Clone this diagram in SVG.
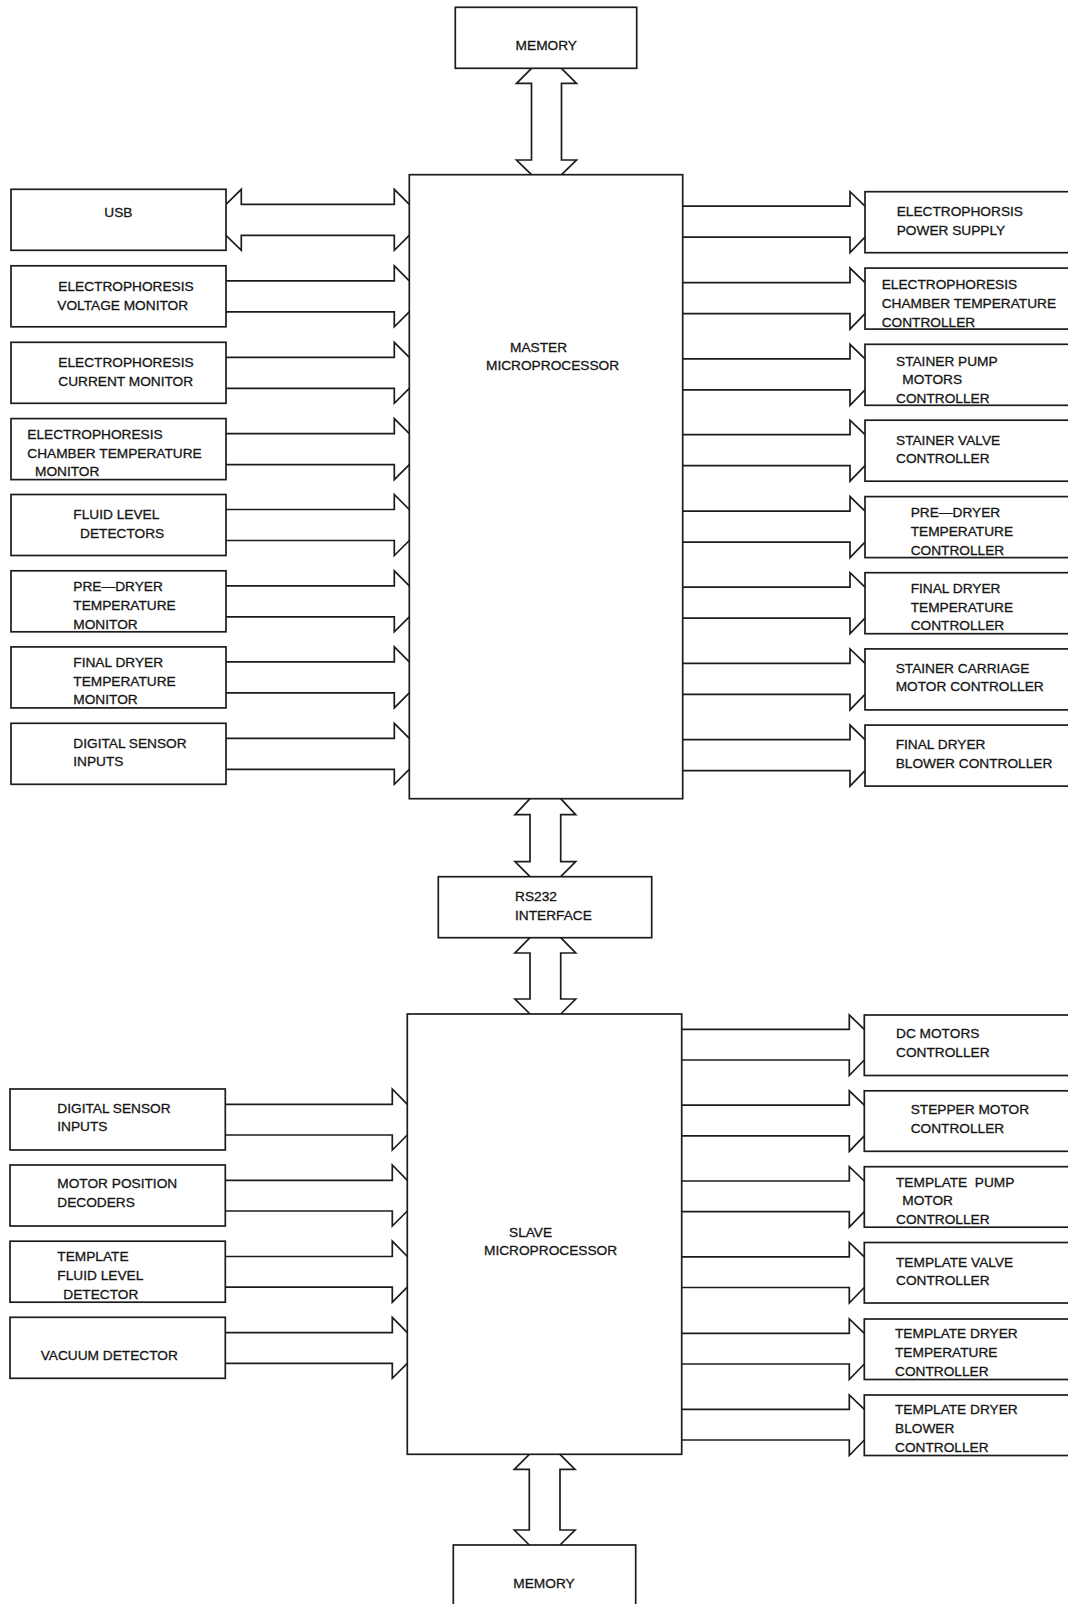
<svg xmlns="http://www.w3.org/2000/svg" width="1068" height="1604" viewBox="0 0 1068 1604">
<style>
.b{fill:#fff;stroke:#1c1c1c;stroke-width:1.7}
.c{fill:none;stroke:#1c1c1c;stroke-width:1.7;stroke-linejoin:miter}
text{font-family:"Liberation Sans",Arial,sans-serif;font-size:13.7px;fill:#151515;stroke:#151515;stroke-width:0.3}
.m{text-anchor:middle}
</style>
<rect width="1068" height="1604" fill="#fff"/>
<g id="connectors">
<path class="c" d="M531.5,68.3 L516.5,83.3 H531.5 V160 H516.5 L531.5,174.7 M561.5,68.3 L576.5,83.3 H561.5 V160 H576.5 L561.5,174.7"/>
<path class="c" d="M530,798.7 L515,814.7 H530 V861.7 H515 L530,876.7 M560.7,798.7 L575.7,814.7 H560.7 V861.7 H575.7 L560.7,876.7"/>
<path class="c" d="M530,937.7 L515,953 H530 V999 H515 L530,1014 M560.7,937.7 L575.7,953 H560.7 V999 H575.7 L560.7,1014"/>
<path class="c" d="M529.3,1454.3 L514.3,1469.3 H529.3 V1530 H514.3 L529.3,1545 M560,1454.3 L575,1469.3 H560 V1530 H575 L560,1545"/>
<path class="c" d="M226,204.3 L241.3,189.3 V204.3 H394.3 V189.3 L409.3,204.3 M226,235.3 L241.3,250.3 V235.3 H394.3 V250.3 L409.3,235.3"/>
<path class="c" d="M226,280.8 H394.3 V265.8 L409.3,280.8 M226,311.8 H394.3 V326.8 L409.3,311.8"/>
<path class="c" d="M226,357.3 H394.3 V342.3 L409.3,357.3 M226,388.3 H394.3 V403.3 L409.3,388.3"/>
<path class="c" d="M226,433.6 H394.3 V418.6 L409.3,433.6 M226,464.6 H394.3 V479.6 L409.3,464.6"/>
<path class="c" d="M226,509.5 H394.3 V494.5 L409.3,509.5 M226,540.5 H394.3 V555.5 L409.3,540.5"/>
<path class="c" d="M226,585.8 H394.3 V570.8 L409.3,585.8 M226,616.8 H394.3 V631.8 L409.3,616.8"/>
<path class="c" d="M226,661.9 H394.3 V646.9 L409.3,661.9 M226,692.9 H394.3 V707.9 L409.3,692.9"/>
<path class="c" d="M226,738.3 H394.3 V723.3 L409.3,738.3 M226,769.3 H394.3 V784.3 L409.3,769.3"/>
<path class="c" d="M682.7,206.2 H850 V191.7 L865,206.2 M682.7,237.2 H850 V252.7 L865,237.2"/>
<path class="c" d="M682.7,282.6 H850 V268.1 L865,282.6 M682.7,313.6 H850 V329.1 L865,313.6"/>
<path class="c" d="M682.7,358.8 H850 V344.3 L865,358.8 M682.7,389.8 H850 V405.3 L865,389.8"/>
<path class="c" d="M682.7,434.7 H850 V420.2 L865,434.7 M682.7,465.7 H850 V481.2 L865,465.7"/>
<path class="c" d="M682.7,511.1 H850 V496.6 L865,511.1 M682.7,542.1 H850 V557.6 L865,542.1"/>
<path class="c" d="M682.7,587.2 H850 V572.7 L865,587.2 M682.7,618.2 H850 V633.7 L865,618.2"/>
<path class="c" d="M682.7,663.4 H850 V648.9 L865,663.4 M682.7,694.4 H850 V709.9 L865,694.4"/>
<path class="c" d="M682.7,739.6 H850 V725.1 L865,739.6 M682.7,770.6 H850 V786.1 L865,770.6"/>
<path class="c" d="M225.3,1104.3 H392.3 V1089 L407.3,1104.3 M225.3,1135 H392.3 V1150 L407.3,1135"/>
<path class="c" d="M225.3,1180.3 H392.3 V1165 L407.3,1180.3 M225.3,1211 H392.3 V1226 L407.3,1211"/>
<path class="c" d="M225.3,1256.5 H392.3 V1241.2 L407.3,1256.5 M225.3,1287.2 H392.3 V1302.2 L407.3,1287.2"/>
<path class="c" d="M225.3,1332.6 H392.3 V1317.3 L407.3,1332.6 M225.3,1363.3 H392.3 V1378.3 L407.3,1363.3"/>
<path class="c" d="M681.7,1029.3 H849.3 V1015 L864.3,1029.3 M681.7,1060 H849.3 V1075.5 L864.3,1060"/>
<path class="c" d="M681.7,1105.1 H849.3 V1090.8 L864.3,1105.1 M681.7,1135.8 H849.3 V1151.3 L864.3,1135.8"/>
<path class="c" d="M681.7,1181 H849.3 V1166.7 L864.3,1181 M681.7,1211.7 H849.3 V1227.2 L864.3,1211.7"/>
<path class="c" d="M681.7,1256.8 H849.3 V1242.5 L864.3,1256.8 M681.7,1287.5 H849.3 V1303 L864.3,1287.5"/>
<path class="c" d="M681.7,1333.3 H849.3 V1319 L864.3,1333.3 M681.7,1364 H849.3 V1379.5 L864.3,1364"/>
<path class="c" d="M681.7,1409.3 H849.3 V1395 L864.3,1409.3 M681.7,1440 H849.3 V1455.5 L864.3,1440"/>
</g>

<g id="memory-top"><rect class="b" x="455.3" y="7.3" width="181.4" height="61"/><text class="m" x="546.3" y="50">MEMORY</text></g>
<g id="master"><rect class="b" x="409.3" y="174.7" width="273.4" height="624"/><text x="510" y="351.7">MASTER</text><text x="486" y="370">MICROPROCESSOR</text></g>
<g id="rs232"><rect class="b" x="438.3" y="876.7" width="213.4" height="61"/><text x="515" y="901">RS232</text><text x="515" y="920">INTERFACE</text></g>
<g id="slave"><rect class="b" x="407.3" y="1014" width="274.4" height="440.3"/><text x="509" y="1237">SLAVE</text><text x="484" y="1255">MICROPROCESSOR</text></g>
<g id="memory-bottom"><rect class="b" x="453.3" y="1545" width="182.4" height="100"/><text class="m" x="544" y="1587.7">MEMORY</text></g>

<g id="usb"><rect class="b" x="11" y="189.3" width="215" height="61"/><text x="104.3" y="217.3">USB</text></g>
<g id="voltage-monitor"><rect class="b" x="11" y="265.8" width="215" height="61"/><text x="58.3" y="291">ELECTROPHORESIS</text><text x="57.3" y="309.5">VOLTAGE MONITOR</text></g>
<g id="current-monitor"><rect class="b" x="11" y="342.3" width="215" height="61"/><text x="58.3" y="367.3">ELECTROPHORESIS</text><text x="58.3" y="385.8">CURRENT MONITOR</text></g>
<g id="chamber-temp-monitor"><rect class="b" x="11" y="418.6" width="215" height="61"/><text x="27.3" y="439">ELECTROPHORESIS</text><text x="27.3" y="457.7">CHAMBER TEMPERATURE</text><text x="35" y="476.3">MONITOR</text></g>
<g id="fluid-level"><rect class="b" x="11" y="494.5" width="215" height="61"/><text x="73.3" y="519.3">FLUID LEVEL</text><text x="80" y="537.7">DETECTORS</text></g>
<g id="predryer-monitor"><rect class="b" x="11" y="570.8" width="215" height="61"/><text x="73.3" y="591.3">PRE—DRYER</text><text x="73.3" y="610">TEMPERATURE</text><text x="73.3" y="628.7">MONITOR</text></g>
<g id="finaldryer-monitor"><rect class="b" x="11" y="646.9" width="215" height="61"/><text x="73.3" y="667">FINAL DRYER</text><text x="73.3" y="685.7">TEMPERATURE</text><text x="73.3" y="704.3">MONITOR</text></g>
<g id="digital-inputs-master"><rect class="b" x="11" y="723.3" width="215" height="61"/><text x="73.3" y="747.7">DIGITAL SENSOR</text><text x="73.3" y="766.3">INPUTS</text></g>

<g id="power-supply"><rect class="b" x="865" y="191.7" width="220" height="61"/><text x="896.7" y="216">ELECTROPHORSIS</text><text x="896.7" y="235">POWER SUPPLY</text></g>
<g id="chamber-temp-controller"><rect class="b" x="865" y="268.1" width="220" height="61"/><text x="881.7" y="289.3">ELECTROPHORESIS</text><text x="881.7" y="308.3">CHAMBER TEMPERATURE</text><text x="881.7" y="326.7">CONTROLLER</text></g>
<g id="stainer-pump"><rect class="b" x="865" y="344.3" width="220" height="61"/><text x="896" y="365.7">STAINER PUMP</text><text x="902.3" y="384">MOTORS</text><text x="896" y="402.7">CONTROLLER</text></g>
<g id="stainer-valve"><rect class="b" x="865" y="420.2" width="220" height="61"/><text x="896" y="445">STAINER VALVE</text><text x="896" y="463.3">CONTROLLER</text></g>
<g id="predryer-controller"><rect class="b" x="865" y="496.6" width="220" height="61"/><text x="910.7" y="517.3">PRE—DRYER</text><text x="910.7" y="536">TEMPERATURE</text><text x="910.7" y="554.7">CONTROLLER</text></g>
<g id="finaldryer-controller"><rect class="b" x="865" y="572.7" width="220" height="61"/><text x="910.7" y="593">FINAL DRYER</text><text x="910.7" y="611.7">TEMPERATURE</text><text x="910.7" y="630">CONTROLLER</text></g>
<g id="carriage-motor"><rect class="b" x="865" y="648.9" width="220" height="61"/><text x="895.7" y="672.7">STAINER CARRIAGE</text><text x="895.7" y="691.3">MOTOR CONTROLLER</text></g>
<g id="blower-controller"><rect class="b" x="865" y="725.1" width="220" height="61"/><text x="895.7" y="749.3">FINAL DRYER</text><text x="895.7" y="768.3">BLOWER CONTROLLER</text></g>

<g id="digital-inputs-slave"><rect class="b" x="10" y="1089" width="215.3" height="61"/><text x="57.3" y="1112.7">DIGITAL SENSOR</text><text x="57.3" y="1131">INPUTS</text></g>
<g id="motor-position"><rect class="b" x="10" y="1165" width="215.3" height="61"/><text x="57.3" y="1188.3">MOTOR POSITION</text><text x="57.3" y="1207.3">DECODERS</text></g>
<g id="template-fluid"><rect class="b" x="10" y="1241.2" width="215.3" height="61"/><text x="57.3" y="1261">TEMPLATE</text><text x="57.3" y="1280">FLUID LEVEL</text><text x="63.3" y="1298.7">DETECTOR</text></g>
<g id="vacuum"><rect class="b" x="10" y="1317.3" width="215.3" height="61"/><text x="40.7" y="1360">VACUUM DETECTOR</text></g>

<g id="dc-motors"><rect class="b" x="864.3" y="1015" width="220" height="60.5"/><text x="896" y="1038.3">DC MOTORS</text><text x="896" y="1056.7">CONTROLLER</text></g>
<g id="stepper"><rect class="b" x="864.3" y="1090.8" width="220" height="60.5"/><text x="910.7" y="1114">STEPPER MOTOR</text><text x="910.7" y="1132.7">CONTROLLER</text></g>
<g id="template-pump"><rect class="b" x="864.3" y="1166.7" width="220" height="60.5"/><text x="896" y="1187.3" xml:space="preserve">TEMPLATE  PUMP</text><text x="902.3" y="1205">MOTOR</text><text x="896" y="1224">CONTROLLER</text></g>
<g id="template-valve"><rect class="b" x="864.3" y="1242.5" width="220" height="60.5"/><text x="896" y="1266.7">TEMPLATE VALVE</text><text x="896" y="1285">CONTROLLER</text></g>
<g id="template-dryer-temp"><rect class="b" x="864.3" y="1319" width="220" height="60.5"/><text x="895" y="1338.3">TEMPLATE DRYER</text><text x="895" y="1357.3">TEMPERATURE</text><text x="895" y="1376">CONTROLLER</text></g>
<g id="template-dryer-blower"><rect class="b" x="864.3" y="1395" width="220" height="60.5"/><text x="895" y="1414.3">TEMPLATE DRYER</text><text x="895" y="1433.3">BLOWER</text><text x="895" y="1451.7">CONTROLLER</text></g>
</svg>
